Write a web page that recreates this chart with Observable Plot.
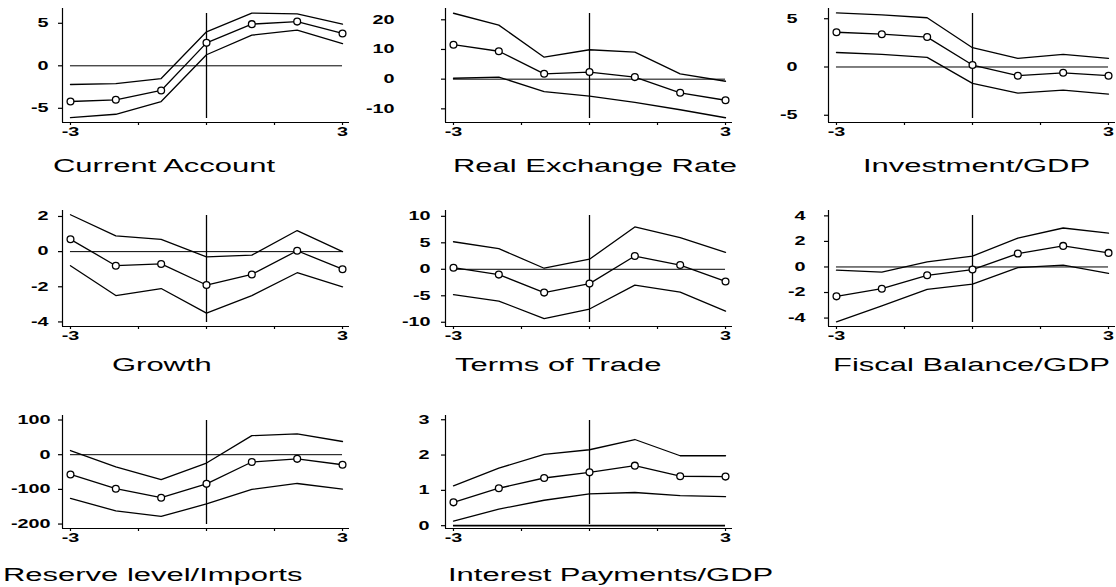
<!DOCTYPE html>
<html><head><meta charset="utf-8">
<script src="https://cdn.jsdelivr.net/npm/d3@7"></script>
<script src="https://cdn.jsdelivr.net/npm/@observablehq/plot@0.6"></script>
<style>
html,body{margin:0;padding:0;background:#fff;}
#page{position:relative;width:1116px;height:587px;overflow:hidden;background:#fff;}
.panel{position:absolute;}
.title{position:absolute;font-family:"Liberation Sans",Arial,sans-serif;font-size:18px;line-height:18px;white-space:nowrap;transform-origin:0 0;transform:scaleX(1.72);color:#000;}
</style></head><body><div id="page"></div>
<script>
// ---- data ----
const periods = [-3, -2, -1, 0, 1, 2, 3];
const xTicks = [-3, -1.5, 0, 1.5, 3];
const titles = ["Current Account", "Real Exchange Rate", "Investment/GDP", "Growth", "Terms of Trade", "Fiscal Balance/GDP", "Reserve level/Imports", "Interest Payments/GDP"];

const caMid = [-4.2, -4.0, -2.9, 2.7, 4.9, 5.2, 3.8];
const caHi  = [-2.2, -2.1, -1.5, 4.0, 6.2, 6.1, 4.9];
const caLo  = [-6.1, -5.7, -4.2, 1.3, 3.6, 4.2, 2.6];
const caTicks = [-5, 0, 5];

const rerMid = [11.6, 9.4, 1.8, 2.4, 0.7, -4.6, -7.1];
const rerHi  = [22.2, 18.2, 7.4, 9.9, 9.1, 1.8, -0.7];
const rerLo  = [0.3, 0.7, -4.2, -5.7, -7.8, -10.3, -13.0];
const rerTicks = [-10, 0, 10, 20];

const invMid = [3.6, 3.4, 3.1, 0.2, -0.9, -0.6, -0.9];
const invHi  = [5.6, 5.4, 5.1, 2.0, 0.9, 1.3, 0.9];
const invLo  = [1.5, 1.3, 1.0, -1.7, -2.7, -2.4, -2.8];
const invTicks = [-5, 0, 5];

const grMid = [0.7, -0.8, -0.7, -1.9, -1.3, 0.05, -1.0];
const grHi  = [2.1, 0.9, 0.7, -0.3, -0.2, 1.2, 0.0];
const grLo  = [-0.8, -2.5, -2.1, -3.5, -2.5, -1.2, -2.0];
const grTicks = [-4, -2, 0, 2];

const totMid = [0.3, -1.0, -4.4, -2.7, 2.5, 0.8, -2.3];
const totHi  = [5.2, 3.9, 0.2, 1.9, 8.0, 6.0, 3.2];
const totLo  = [-4.8, -6.0, -9.3, -7.5, -3.0, -4.3, -7.9];
const totTicks = [-10, -5, 0, 5, 10];

const fbMid = [-2.3, -1.7, -0.65, -0.2, 1.05, 1.65, 1.1];
const fbHi  = [-0.25, -0.4, 0.4, 0.85, 2.25, 3.05, 2.65];
const fbLo  = [-4.3, -3.05, -1.75, -1.35, -0.05, 0.15, -0.5];
const fbTicks = [-4, -2, 0, 2, 4];

const resMid = [-57, -98, -124, -84, -21, -12, -29];
const resHi  = [12, -35, -72, -24, 55, 60, 38];
const resLo  = [-126, -162, -178, -142, -100, -83, -99];
const resTicks = [-200, -100, 0, 100];

const intMid = [0.66, 1.06, 1.35, 1.51, 1.70, 1.40, 1.39];
const intHi  = [1.13, 1.63, 2.02, 2.15, 2.44, 1.98, 1.98];
const intLo  = [0.13, 0.47, 0.72, 0.90, 0.94, 0.85, 0.82];
const intTicks = [0, 1, 2, 3];

// ---- layout ----
const colAxisX = [62, 445, 828];
const rows = [
  {top: 8, bottom: 122, mTop: 8, titleTop: 157},
  {top: 210, bottom: 326, mTop: 10, titleTop: 356},
  {top: 415, bottom: 528, mTop: 10, titleTop: 566}
];
const titleLeft = [53, 453, 863, 112, 455, 833, 3, 448];
const xDomain = [-3.176, 3.154];

const panels = [
  {mid: caMid, hi: caHi, lo: caLo, ticks: caTicks, domain: [-6.67, 6.74], pad: 10},
  {mid: rerMid, hi: rerHi, lo: rerLo, ticks: rerTicks, domain: [-14.6, 23.8], pad: 47},
  {mid: invMid, hi: invHi, lo: invLo, ticks: invTicks, domain: [-5.75, 6.06], pad: 27},
  {mid: grMid, hi: grHi, lo: grLo, ticks: grTicks, domain: [-4.26, 2.34], pad: 10},
  {mid: totMid, hi: totHi, lo: totLo, ticks: totTicks, domain: [-10.8, 11.1], pad: 11},
  {mid: fbMid, hi: fbHi, lo: fbLo, ticks: fbTicks, domain: [-4.66, 4.42], pad: 19},
  {mid: resMid, hi: resHi, lo: resLo, ticks: resTicks, domain: [-212.8, 113], pad: 8},
  {mid: intMid, hi: intHi, lo: intLo, ticks: intTicks, domain: [-0.08, 3.12], pad: 12, zeroW: 1.8}
];

const page = document.getElementById("page");
const FRAME_W = 287;
const TEXT_SCALE = 1.65;

panels.forEach((p, k) => {
  const col = k % 3, row = rows[Math.floor(k / 3)];
  const data = periods.map((t, i) => ({t, mid: p.mid[i], hi: p.hi[i], lo: p.lo[i]}));
  const mBottom = 30;
  const xmin = xDomain[0], ymin = p.domain[0];
  const svg = Plot.plot({
    width: 62 + FRAME_W + 4,
    height: row.mTop + (row.bottom - row.top) + mBottom,
    marginLeft: 62, marginRight: 4, marginTop: row.mTop, marginBottom: mBottom,
    style: "background:none;overflow:visible;font-family:'Liberation Sans',Arial,sans-serif;font-size:12px;font-weight:bold;color:#000;",
    x: {domain: xDomain},
    y: {domain: p.domain},
    marks: [
      // axis labels
      Plot.axisX({ticks: xTicks, tickFormat: d => (Math.abs(d) === 3 ? String(d) : ""), tickSize: 0, tickPadding: 5, label: null}),
      Plot.axisY({ticks: p.ticks, tickFormat: d => String(d), tickSize: 0, tickPadding: p.pad + 4, label: null}),
      // axis lines
      Plot.ruleX([xmin], {stroke: "black", strokeWidth: 1.2}),
      Plot.ruleY([ymin], {stroke: "black", strokeWidth: 1.2}),
      // tick marks
      Plot.ruleY(p.ticks, {x1: xmin, x2: xmin, insetLeft: -4, stroke: "black", strokeWidth: 1.2}),
      Plot.ruleX(xTicks, {y1: ymin, y2: ymin, insetTop: 3, stroke: "black", strokeWidth: 1.2}),
      // reference lines
      Plot.ruleY([0], {x1: -3, x2: 3, stroke: "black", strokeWidth: p.zeroW || 1}),
      Plot.ruleX([0], {stroke: "black", strokeWidth: 1.3, insetTop: 5, insetBottom: 4}),
      // bands and estimate
      Plot.line(data, {x: "t", y: "hi", stroke: "black", strokeWidth: 1.3}),
      Plot.line(data, {x: "t", y: "lo", stroke: "black", strokeWidth: 1.3}),
      Plot.line(data, {x: "t", y: "mid", stroke: "black", strokeWidth: 1.3}),
      Plot.dot(data, {x: "t", y: "mid", r: 3.4, fill: "white", stroke: "black", strokeWidth: 1.3})
    ]
  });
  // widen tick labels horizontally like the reference typography (x only; keep em-based y offsets)
  svg.querySelectorAll("text").forEach(t => {
    const x = t.getAttribute("x");
    let tr = t.getAttribute("transform") || "";
    if (x != null && !/em$/.test(x)) {
      tr += ` translate(${+x || 0},0)`;
      t.removeAttribute("x");
    }
    t.setAttribute("transform", tr + ` scale(${TEXT_SCALE},1)`);
  });
  svg.classList.add("panel");
  svg.style.left = (colAxisX[col] - 62) + "px";
  svg.style.top = (row.top - row.mTop) + "px";
  svg.style.position = "absolute";
  page.appendChild(svg);

  const title = document.createElement("div");
  title.className = "title";
  title.textContent = titles[k];
  title.style.left = titleLeft[k] + "px";
  title.style.top = row.titleTop + "px";
  page.appendChild(title);
});
</script>
</body></html>
